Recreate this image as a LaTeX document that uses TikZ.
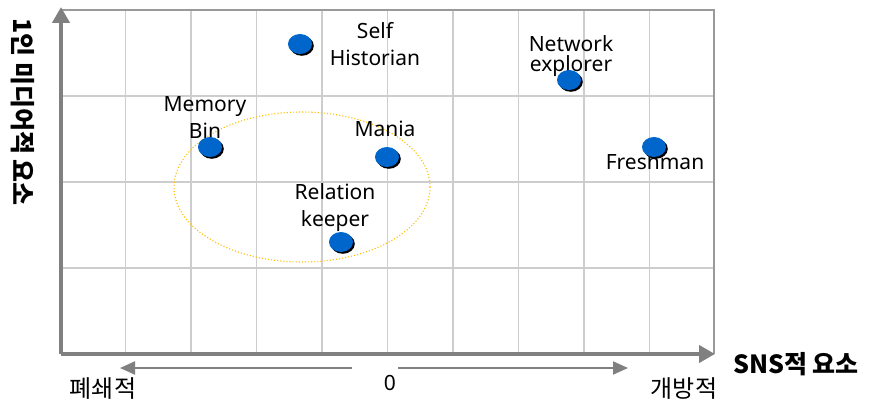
\documentclass[tikz,border=0pt]{standalone}
\usepackage{fontspec}
\setmainfont{Noto Sans}
\newfontfamily\krfont{Noto Sans CJK KR}
\usetikzlibrary{arrows.meta,positioning,shapes.geometric,shadows}

\definecolor{dotblue}{RGB}{0,102,204}
\definecolor{axisgray}{RGB}{128,128,128}
\definecolor{gridgray}{RGB}{205,205,205}
\definecolor{ringyellow}{RGB}{255,192,0}

\begin{document}
\begin{tikzpicture}[x=1pt, y=-1pt,
    gridline/.style={gridgray, line width=1.2pt},
    axis/.style={axisgray, line width=4pt, -{Triangle[length=16pt,width=17pt]}},
    dirarrow/.style={axisgray, line width=2pt, -{Triangle[length=15pt,width=13pt]}},
    dot/.style={ellipse, fill=dotblue, minimum width=24pt, minimum height=20pt, inner sep=0pt,
        drop shadow={shadow xshift=1.8pt, shadow yshift=-1.8pt, opacity=1, fill=black}},
    lbl/.style={align=center, font=\fontsize{21}{27}\selectfont},
    krlbl/.style={font=\krfont\fontsize{24}{28}\selectfont}]
    \useasboundingbox (0,0) rectangle (872,406);

    % grid and frame
    \foreach \k in {1,...,9}
        \draw[gridline] (60+65.5*\k,10) -- (60+65.5*\k,354);
    \foreach \y in {96,182,268}
        \draw[gridline] (61,\y) -- (714,\y);
    \draw[axisgray!80, line width=1.2pt] (61,10) -- (714,10) -- (714,354);

    % axes
    \coordinate (origin) at (61,354);
    \coordinate (xend) at (715,354);
    \coordinate (yend) at (61,7);
    \draw[axis] (origin) -- (xend);
    \draw[axis] (origin) -- (yend);

    % group ring
    \draw[ringyellow, line width=1.1pt, dotted] (302,187) ellipse [x radius=128, y radius=75];

    % type names (dots sit on top of them)
    \node[lbl] (selflbl) at (375,44) {Self\\Historian};
    \node[lbl, font=\fontsize{21}{20}\selectfont] (networklbl) at (571,56) {Network\\explorer};
    \node[lbl] (memorylbl) at (205,118) {Memory\\Bin};
    \node[lbl] (manialbl) at (385,129) {Mania};
    \node[lbl] (relationlbl) at (335,208) {Relation\\keeper};
    \node[lbl] (freshlbl) at (655,162) {Freshman};

    % types
    \node[dot] (self) at (300,44) {};
    \node[dot] (network) at (569,80) {};
    \node[dot] (memory) at (210,147) {};
    \node[dot] (mania) at (387,157) {};
    \node[dot] (relation) at (341,242) {};
    \node[dot] (fresh) at (654,147) {};

    % axis labels
    \node[font=\krfont\bfseries\fontsize{25}{28}\selectfont] (xlbl) at (796,364) {SNS적 요소};
    \node[font=\krfont\bfseries\fontsize{25}{28}\selectfont, rotate=-90] (ylbl) at (23,112) {1인 미디어적 요소};
    \node[lbl] (zero) at (390,383) {0};
    \node[krlbl] (closed) at (103,389) {폐쇄적};
    \node[krlbl] (open) at (684,389) {개방적};
    \coordinate (leftstart) at (352,368);
    \coordinate (leftend) at (120,368);
    \coordinate (rightstart) at (398,368);
    \coordinate (rightend) at (628,368);
    \draw[dirarrow] (leftstart) -- (leftend);
    \draw[dirarrow] (rightstart) -- (rightend);
\end{tikzpicture}
\end{document}
